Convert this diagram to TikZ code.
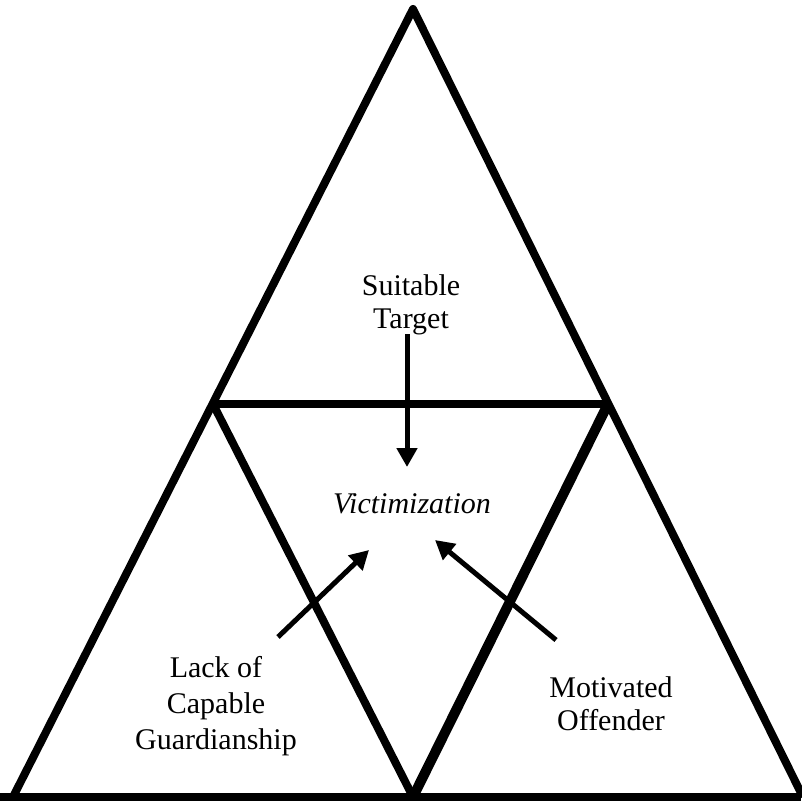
\documentclass[tikz,border=0pt]{standalone}
\usepackage{fontspec}
\setmainfont{Liberation Serif}
\usetikzlibrary{arrows.meta}

\begin{document}
\begin{tikzpicture}[x=1pt, y=-1pt, >={Triangle[length=19pt,width=20pt]},
    edge/.style={line width=8pt, line join=round},
    pointer/.style={->, line width=5pt},
    txt/.style={align=center, inner sep=0pt, font=\fontsize{30}{33}\selectfont}]
  \useasboundingbox (0,0) rectangle (801,802);
  % corners
  \coordinate (apex) at (413,9);
  \coordinate (bl) at (13,797);
  \coordinate (br) at (803,797);
  \coordinate (ml) at (213,404);
  \coordinate (mr) at (608,404);
  \coordinate (mb) at (413,797);
  \draw[edge] (bl) -- (apex) -- (br);
  \draw[edge] (0,797) -- (801,797);
  \draw[edge] (ml) -- (mr);
  \draw[edge] (ml) -- (mb);
  \draw[edge, line width=10pt] (mr) -- (mb);
  % labels
  \node[txt] (target) at (411,305) {Suitable\\Target};
  \node[txt, anchor=base, font=\fontsize{30}{33}\selectfont\itshape] (victim) at (412,513) {Victimization};
  \node[txt, font=\fontsize{30}{36}\selectfont] (guard) at (216,706) {Lack of\\Capable\\Guardianship};
  \node[txt] (offender) at (611,704) {Motivated\\Offender};
  % arrow ends
  \coordinate (t1) at (407,334);
  \coordinate (h1) at (407,467);
  \coordinate (t2) at (278,637);
  \coordinate (h2) at (369,550);
  \coordinate (t3) at (556,640);
  \coordinate (h3) at (435,540);
  \draw[pointer] (t1) -- (h1);
  \draw[pointer] (t2) -- (h2);
  \draw[pointer] (t3) -- (h3);
\end{tikzpicture}
\end{document}
